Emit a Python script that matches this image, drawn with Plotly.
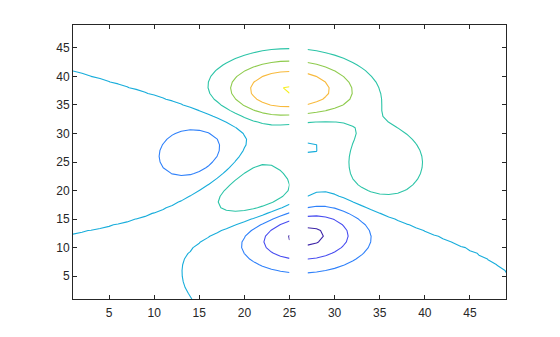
import numpy as np
import plotly.graph_objects as go

# ---- data: MATLAB peaks(49) surface with a missing (NaN) column at index 26 ----
n = 49
grid = np.linspace(-3, 3, n)
col_index = np.arange(1, n + 1)          # x: column index 1..49
row_index = np.arange(1, n + 1)          # y: row index 1..49
gap_column = 26                          # column of missing values
levels = [-6, -4, -2, 0, 2, 4, 6, 8]     # contour levels
x_ticks = [5, 10, 15, 20, 25, 30, 35, 40, 45]
y_ticks = [5, 10, 15, 20, 25, 30, 35, 40, 45]

X, Y = np.meshgrid(grid, grid)
Z = (3 * (1 - X) ** 2 * np.exp(-(X ** 2) - (Y + 1) ** 2)
     - 10 * (X / 5 - X ** 3 - Y ** 5) * np.exp(-X ** 2 - Y ** 2)
     - 1 / 3 * np.exp(-(X + 1) ** 2 - Y ** 2))
zmin, zmax = float(Z.min()), float(Z.max())

# ---- parula colormap ----
parula = [
    (0.2422, 0.1504, 0.6603), (0.2504, 0.1650, 0.7076), (0.2578, 0.1818, 0.7511), (0.2647, 0.1978, 0.7952),
    (0.2706, 0.2147, 0.8364), (0.2751, 0.2342, 0.8710), (0.2783, 0.2559, 0.8991), (0.2803, 0.2782, 0.9221),
    (0.2813, 0.3006, 0.9414), (0.2810, 0.3228, 0.9579), (0.2795, 0.3447, 0.9717), (0.2760, 0.3667, 0.9829),
    (0.2699, 0.3892, 0.9906), (0.2602, 0.4123, 0.9952), (0.2440, 0.4358, 0.9988), (0.2206, 0.4603, 0.9973),
    (0.1963, 0.4847, 0.9892), (0.1834, 0.5074, 0.9798), (0.1786, 0.5289, 0.9682), (0.1764, 0.5499, 0.9520),
    (0.1687, 0.5703, 0.9359), (0.1540, 0.5902, 0.9218), (0.1460, 0.6091, 0.9079), (0.1380, 0.6276, 0.8973),
    (0.1248, 0.6459, 0.8883), (0.1113, 0.6635, 0.8763), (0.0952, 0.6798, 0.8598), (0.0689, 0.6948, 0.8394),
    (0.0297, 0.7082, 0.8163), (0.0036, 0.7203, 0.7917), (0.0067, 0.7312, 0.7660), (0.0433, 0.7411, 0.7394),
    (0.0964, 0.7500, 0.7120), (0.1408, 0.7584, 0.6842), (0.1717, 0.7670, 0.6554), (0.1938, 0.7758, 0.6251),
    (0.2161, 0.7843, 0.5923), (0.2470, 0.7918, 0.5567), (0.2906, 0.7973, 0.5188), (0.3406, 0.8008, 0.4789),
    (0.3909, 0.8029, 0.4354), (0.4456, 0.8024, 0.3909), (0.5044, 0.7993, 0.3480), (0.5616, 0.7942, 0.3045),
    (0.6174, 0.7876, 0.2612), (0.6720, 0.7793, 0.2227), (0.7242, 0.7698, 0.1910), (0.7738, 0.7598, 0.1646),
    (0.8203, 0.7498, 0.1535), (0.8634, 0.7406, 0.1596), (0.9035, 0.7330, 0.1774), (0.9393, 0.7288, 0.2100),
    (0.9728, 0.7298, 0.2394), (0.9956, 0.7434, 0.2371), (0.9970, 0.7659, 0.2199), (0.9952, 0.7893, 0.2028),
    (0.9892, 0.8136, 0.1885), (0.9786, 0.8386, 0.1766), (0.9676, 0.8639, 0.1643), (0.9610, 0.8890, 0.1537),
    (0.9597, 0.9135, 0.1423), (0.9628, 0.9373, 0.1265), (0.9691, 0.9606, 0.1064), (0.9769, 0.9839, 0.0805),
]


def cmap(t):
    idx = int(np.clip(np.floor(t * len(parula)), 0, len(parula) - 1))
    r, g, b = parula[idx]
    return f"rgb({round(r*255)},{round(g*255)},{round(b*255)})"


lo, hi = levels[0], levels[-1]
colorscale = []
for lv in levels:
    s = (lv - lo) / (hi - lo)
    t = (lv - zmin) / (zmax - zmin) - 0.04
    colorscale.append([s, cmap(t)])

fig = go.Figure()
left_cols = col_index < gap_column
right_cols = col_index > gap_column
for mask in (left_cols, right_cols):
    fig.add_trace(go.Contour(
        x=col_index[mask], y=row_index, z=Z[:, mask],
        autocontour=False,
        contours=dict(start=lo, end=hi, size=2, coloring="lines", showlabels=False),
        colorscale=colorscale, showscale=False,
        line=dict(width=1.1, smoothing=0),
        hoverinfo="skip",
    ))

axis_common = dict(
    showgrid=False, zeroline=False, showline=True, linecolor="#262626", linewidth=1,
    mirror="ticks", ticks="inside", ticklen=4, tickwidth=1, tickcolor="#262626",
    tickfont=dict(family="Liberation Sans, Arial, sans-serif", size=12, color="#262626"),
)
fig.update_xaxes(range=[1, 49], tickvals=x_ticks, ticklabelstandoff=3, **axis_common)
fig.update_yaxes(range=[1, 49], tickvals=y_ticks, **axis_common)
fig.update_layout(
    width=560, height=337, margin=dict(l=73, r=54, t=25, b=38),
    paper_bgcolor="white", plot_bgcolor="white", showlegend=False,
)
fig.write_html("out.html")
